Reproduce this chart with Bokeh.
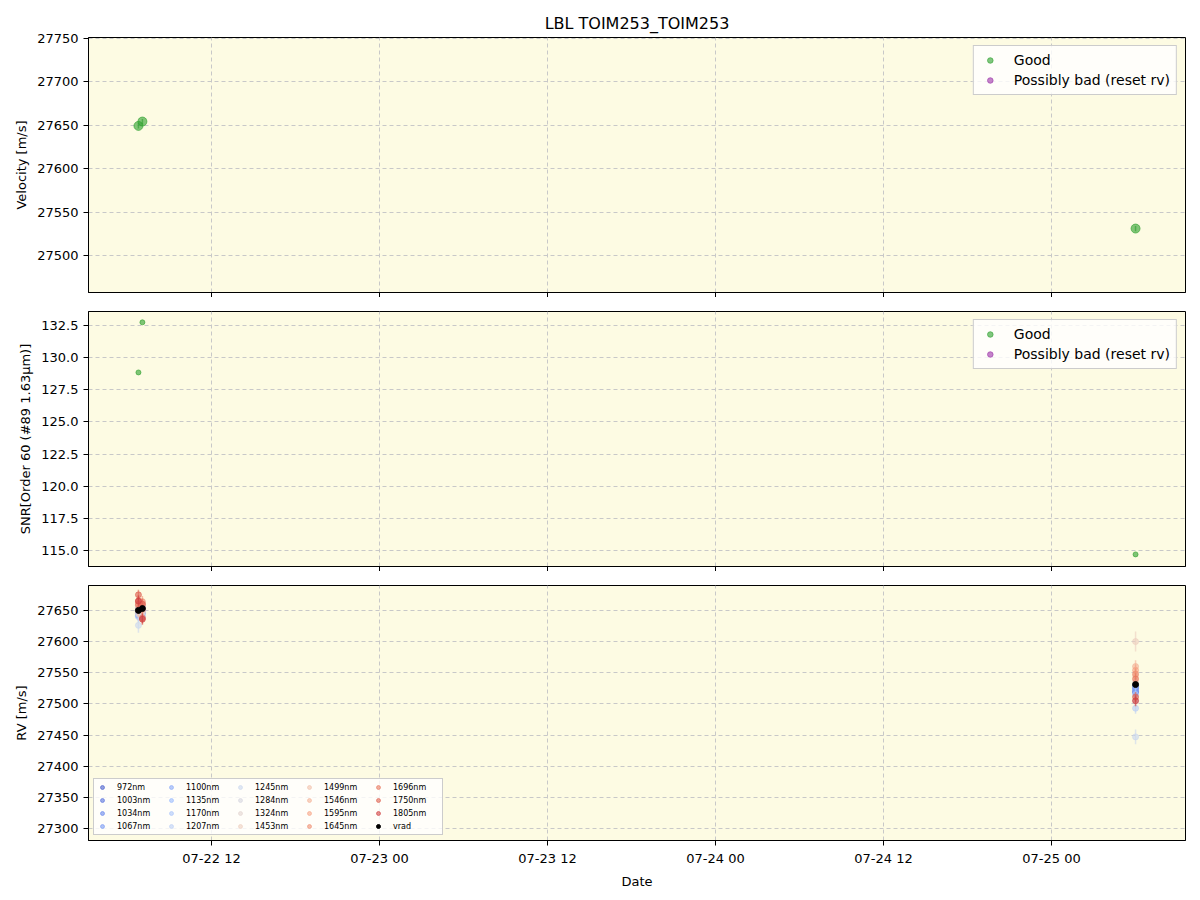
import pandas as pd
from bokeh.plotting import figure
from bokeh.models import (ColumnDataSource, Range1d, FixedTicker, DatetimeTickFormatter,
                          Legend, LegendItem, NumeralTickFormatter, CustomJSTickFormatter)
from bokeh.layouts import column
from bokeh.embed import file_html
from bokeh.resources import INLINE

# ---------------- data ----------------
times = ["2024-07-22 06:47", "2024-07-22 07:04", "2024-07-25 06:00"]
velocity = [27649, 27654, 27531]
velocity_err = [3, 3, 3]
snr = [128.85, 132.75, 114.7]

wavelengths = ["972nm", "1003nm", "1034nm", "1067nm", "1100nm", "1135nm", "1170nm",
               "1207nm", "1245nm", "1284nm", "1324nm", "1453nm", "1499nm", "1546nm",
               "1595nm", "1645nm", "1696nm", "1750nm", "1805nm"]
rv_epoch1 = [27648, 27655, 27642, 27650, 27645, 27658, 27640, 27652, 27626, 27660,
             27645, 27655, 27662, 27650, 27658, 27665, 27660, 27675, 27665]
rv_epoch2 = [27652, 27648, 27656, 27645, 27650, 27640, 27655, 27648, 27642, 27650,
             27660, 27648, 27655, 27660, 27652, 27664, 27638, 27660, 27636]
rv_epoch3 = [27520, 27525, 27518, 27528, 27522, 27530, 27515, 27493, 27447, 27505,
             27535, 27600, 27545, 27560, 27554, 27548, 27540, 27511, 27505]
rv_err = [9, 8, 8, 8, 8, 8, 9, 9, 12, 10, 10, 16, 10, 10, 9, 9, 9, 8, 9]
vrad = [27650, 27653, 27531]
vrad_err = [3, 3, 3]

x_start, x_end = "2024-07-22 03:13", "2024-07-25 09:34"
date_ticks = ["2024-07-22 12:00", "2024-07-23 00:00", "2024-07-23 12:00",
              "2024-07-24 00:00", "2024-07-24 12:00", "2024-07-25 00:00"]

# ---------------- helpers ----------------
t = pd.to_datetime(times)
tick_ms = [pd.Timestamp(d).value // 10**6 for d in date_ticks]
nan_x = [t[0]]
nan_y = [float("nan")]

anchors = ["#3b4cc0", "#6788ee", "#9abbff", "#c9d7f0", "#edd1c2", "#f7a889", "#e26952", "#b40426"]

def hex2rgb(h):
    return tuple(int(h[i:i + 2], 16) for i in (1, 3, 5))

def coolwarm(f):
    pos = f * (len(anchors) - 1)
    i = min(int(pos), len(anchors) - 2)
    fr = pos - i
    a, b = hex2rgb(anchors[i]), hex2rgb(anchors[i + 1])
    return "#%02x%02x%02x" % tuple(round(a[k] + (b[k] - a[k]) * fr) for k in range(3))

n_bands = len(wavelengths)
band_colors = [coolwarm(0.04 + 0.88 * i / (n_bands - 1)) for i in range(n_bands)]

FONT = "DejaVu Sans"
BG = "#fdfbe3"
GREEN = "#2ca02c"
PURPLE = "#9b30a8"
x_range = Range1d(pd.Timestamp(x_start), pd.Timestamp(x_end))


def make_fig(y0, y1, yticks, ylabel, show_x_labels=False, title=None, **kw):
    p = figure(x_axis_type="datetime", x_range=x_range, y_range=Range1d(y0, y1),
               frame_width=1097, frame_height=255, min_border_left=88, min_border_right=7,
               output_backend="svg", toolbar_location=None, background_fill_color=BG,
               border_fill_color="white", outline_line_color="black", title=title, **kw)
    p.xaxis.ticker = FixedTicker(ticks=tick_ms)
    if show_x_labels:
        p.xaxis.formatter = DatetimeTickFormatter(hours="%m-%d %H", hourmin="%m-%d %H",
                                                  days="%m-%d %H", months="%m-%d %H",
                                                  minutes="%m-%d %H", years="%m-%d %H")
    else:
        p.xaxis.formatter = CustomJSTickFormatter(code="return '';")
        p.xaxis.major_label_standoff = 0
    p.yaxis.ticker = FixedTicker(ticks=yticks)
    for ax in (p.xaxis[0], p.yaxis[0]):
        ax.major_label_text_font = FONT
        ax.major_label_text_font_size = "13px"
        ax.major_label_text_color = "black"
        ax.axis_label_text_font = FONT
        ax.axis_label_text_font_size = "13px"
        ax.axis_label_text_font_style = "normal"
        ax.axis_label_text_color = "black"
        ax.major_tick_out = 5
        ax.major_tick_in = 0
        ax.minor_tick_out = 0
        ax.minor_tick_in = 0
        ax.axis_line_color = "black"
        ax.major_tick_line_color = "black"
    p.yaxis.axis_label = ylabel
    for g in (p.xgrid[0], p.ygrid[0]):
        g.grid_line_color = "#c8c8c8"
        g.grid_line_dash = "4 3"
        g.grid_line_width = 1
    p.ygrid.ticker = FixedTicker(ticks=yticks)
    p.xgrid.ticker = FixedTicker(ticks=tick_ms)
    return p


def top_legend(items):
    return Legend(items=items, location="top_right", margin=8, label_text_font=FONT,
                  label_text_font_size="14px", label_text_color="black",
                  border_line_color="#cccccc", border_line_alpha=1, background_fill_alpha=0.8,
                  glyph_width=20, glyph_height=14, spacing=4, padding=6, label_standoff=14)


# ---------------- panel 1 : velocity ----------------
p1 = make_fig(27457.5, 27750.6, [27500, 27550, 27600, 27650, 27700, 27750], "Velocity [m/s]",
              title="LBL TOIM253_TOIM253", min_border_top=37, min_border_bottom=0)
p1.title.align = "center"
p1.title.text_font = FONT
p1.title.text_font_size = "16px"
p1.title.text_font_style = "normal"
p1.title.text_color = "black"

src_v = ColumnDataSource(dict(x=t, y=velocity,
                              lo=[v - e for v, e in zip(velocity, velocity_err)],
                              hi=[v + e for v, e in zip(velocity, velocity_err)]))
p1.segment("x", "lo", "x", "hi", source=src_v, line_color=GREEN, line_alpha=0.6, line_width=1.5)
good1 = p1.scatter("x", "y", source=src_v, size=9, fill_color=GREEN, line_color=GREEN,
                   fill_alpha=0.6, line_alpha=0.6)
bad1 = p1.scatter(nan_x, nan_y, size=9, fill_color=PURPLE, line_color=PURPLE,
                  fill_alpha=0.6, line_alpha=0.6)
p1.add_layout(top_legend([LegendItem(label="Good", renderers=[good1]),
                          LegendItem(label="Possibly bad (reset rv)", renderers=[bad1])]),
              "center")

# ---------------- panel 2 : SNR ----------------
p2 = make_fig(113.76, 133.59, [115.0, 117.5, 120.0, 122.5, 125.0, 127.5, 130.0, 132.5],
              "SNR[Order 60 (#89 1.63μm)]", min_border_top=14, min_border_bottom=0)
p2.yaxis.formatter = NumeralTickFormatter(format="0.0")
good2 = p2.scatter(t, snr, size=5, fill_color=GREEN, line_color=GREEN,
                   fill_alpha=0.6, line_alpha=0.6)
bad2 = p2.scatter(nan_x, nan_y, size=5, fill_color=PURPLE, line_color=PURPLE,
                  fill_alpha=0.6, line_alpha=0.6)
p2.add_layout(top_legend([LegendItem(label="Good", renderers=[good2]),
                          LegendItem(label="Possibly bad (reset rv)", renderers=[bad2])]),
              "center")

# ---------------- panel 3 : per-band RV ----------------
p3 = make_fig(27280.7, 27690.0, [27300, 27350, 27400, 27450, 27500, 27550, 27600, 27650],
              "RV [m/s]", show_x_labels=True, min_border_top=14, min_border_bottom=10)
p3.xaxis.axis_label = "Date"

items = []
epochs = [rv_epoch1, rv_epoch2, rv_epoch3]
for i in range(n_bands):
    ys = [e[i] for e in epochs]
    src = ColumnDataSource(dict(x=t, y=ys, lo=[y - rv_err[i] for y in ys],
                                hi=[y + rv_err[i] for y in ys]))
    c = band_colors[i]
    p3.segment("x", "lo", "x", "hi", source=src, line_color=c, line_alpha=0.6, line_width=1.5)
    r = p3.scatter("x", "y", source=src, size=6, fill_color=c, line_color=c,
                   fill_alpha=0.6, line_alpha=0.6)
    items.append(LegendItem(label=wavelengths[i], renderers=[r]))

src_vr = ColumnDataSource(dict(x=t, y=vrad, lo=[v - e for v, e in zip(vrad, vrad_err)],
                               hi=[v + e for v, e in zip(vrad, vrad_err)]))
p3.segment("x", "lo", "x", "hi", source=src_vr, line_color="black", line_width=1.5)
rv_r = p3.scatter("x", "y", source=src_vr, size=6, fill_color="black", line_color="black")
items.append(LegendItem(label="vrad", renderers=[rv_r]))

leg3 = Legend(items=items, location="bottom_left", margin=5, nrows=4,
              label_text_font=FONT, label_text_font_size="8px", label_text_color="black",
              border_line_color="#cccccc", border_line_alpha=1, background_fill_alpha=0.8,
              glyph_width=10, glyph_height=10, spacing=3, padding=3, label_standoff=10,
              label_height=10, label_width=46)
p3.add_layout(leg3, "center")

layout = column(p1, p2, p3, spacing=0)
open("out.html", "w").write(file_html(layout, INLINE))
